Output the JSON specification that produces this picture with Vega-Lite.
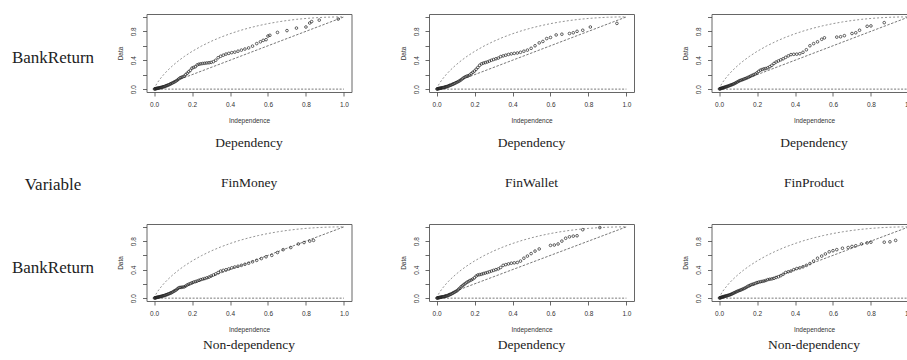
{
  "$schema": "https://vega.github.io/schema/vega-lite/v6.json",
  "padding": {"left": 0, "top": 13, "right": 0, "bottom": 0},
  "background": "white",
  "datasets": {
    "k0": [{"x":0,"y":0},{"x":0.001,"y":0.0079},{"x":0.005,"y":0.0315},{"x":0.01,"y":0.0561},{"x":0.02,"y":0.0982},{"x":0.03,"y":0.1352},{"x":0.05,"y":0.1998},{"x":0.07,"y":0.2561},{"x":0.1,"y":0.3303},{"x":0.13,"y":0.3952},{"x":0.16,"y":0.4532},{"x":0.2,"y":0.5219},{"x":0.25,"y":0.5966},{"x":0.3,"y":0.6612},{"x":0.35,"y":0.7174},{"x":0.4,"y":0.7665},{"x":0.45,"y":0.8093},{"x":0.5,"y":0.8466},{"x":0.55,"y":0.8788},{"x":0.6,"y":0.9065},{"x":0.65,"y":0.93},{"x":0.7,"y":0.9497},{"x":0.75,"y":0.9658},{"x":0.8,"y":0.9785},{"x":0.85,"y":0.9881},{"x":0.9,"y":0.9948},{"x":0.95,"y":0.9987},{"x":1,"y":1}],
    "diag": [{"x":0,"y":0},{"x":1,"y":1}],
    "zero": [{"x":0,"y":0},{"x":1,"y":0}],
    "p1": [{"x":0.002,"y":0.001},{"x":0.0044,"y":0.003},{"x":0.0071,"y":0.005},{"x":0.010,"y":0.007},{"x":0.0132,"y":0.009},{"x":0.0166,"y":0.011},{"x":0.0201,"y":0.013},{"x":0.0238,"y":0.015},{"x":0.0276,"y":0.017},{"x":0.0316,"y":0.02},{"x":0.0358,"y":0.022},{"x":0.040,"y":0.025},{"x":0.0445,"y":0.028},{"x":0.0491,"y":0.031},{"x":0.0539,"y":0.035},{"x":0.0588,"y":0.04},{"x":0.0638,"y":0.045},{"x":0.069,"y":0.05},{"x":0.0743,"y":0.056},{"x":0.0798,"y":0.062},{"x":0.0855,"y":0.07},{"x":0.0913,"y":0.078},{"x":0.0972,"y":0.086},{"x":0.1034,"y":0.094},{"x":0.1097,"y":0.103},{"x":0.1162,"y":0.113},{"x":0.1228,"y":0.125},{"x":0.1296,"y":0.14},{"x":0.1366,"y":0.155},{"x":0.1437,"y":0.163},{"x":0.151,"y":0.17},{"x":0.1586,"y":0.18},{"x":0.1664,"y":0.2},{"x":0.1743,"y":0.22},{"x":0.1825,"y":0.24},{"x":0.1908,"y":0.26},{"x":0.1995,"y":0.29},{"x":0.2083,"y":0.30},{"x":0.2175,"y":0.31},{"x":0.2269,"y":0.335},{"x":0.2366,"y":0.345},{"x":0.2464,"y":0.35},{"x":0.2566,"y":0.355},{"x":0.2672,"y":0.358},{"x":0.2779,"y":0.362},{"x":0.2892,"y":0.365},{"x":0.3004,"y":0.37},{"x":0.3125,"y":0.38},{"x":0.3248,"y":0.40},{"x":0.3375,"y":0.435},{"x":0.3507,"y":0.455},{"x":0.3644,"y":0.47},{"x":0.3787,"y":0.485},{"x":0.3935,"y":0.495},{"x":0.409,"y":0.505},{"x":0.4252,"y":0.512},{"x":0.442,"y":0.525},{"x":0.4598,"y":0.54},{"x":0.4784,"y":0.555},{"x":0.498,"y":0.57},{"x":0.5186,"y":0.595},{"x":0.5406,"y":0.63},{"x":0.56,"y":0.655},{"x":0.575,"y":0.675},{"x":0.59,"y":0.685},{"x":0.6,"y":0.735},{"x":0.61,"y":0.745},{"x":0.65,"y":0.785},{"x":0.7,"y":0.81},{"x":0.75,"y":0.845},{"x":0.8,"y":0.86},{"x":0.82,"y":0.915},{"x":0.83,"y":0.935},{"x":0.87,"y":0.955},{"x":0.97,"y":0.97}],
    "p2": [{"x":0.002,"y":0.001},{"x":0.0044,"y":0.003},{"x":0.0071,"y":0.005},{"x":0.010,"y":0.007},{"x":0.0132,"y":0.009},{"x":0.0166,"y":0.011},{"x":0.0201,"y":0.013},{"x":0.0238,"y":0.015},{"x":0.0276,"y":0.017},{"x":0.0316,"y":0.019},{"x":0.0358,"y":0.021},{"x":0.040,"y":0.024},{"x":0.0445,"y":0.027},{"x":0.0491,"y":0.03},{"x":0.0539,"y":0.034},{"x":0.0588,"y":0.039},{"x":0.0638,"y":0.044},{"x":0.069,"y":0.049},{"x":0.0743,"y":0.055},{"x":0.0798,"y":0.061},{"x":0.0855,"y":0.067},{"x":0.0913,"y":0.074},{"x":0.0972,"y":0.082},{"x":0.1034,"y":0.09},{"x":0.1097,"y":0.098},{"x":0.1162,"y":0.107},{"x":0.1228,"y":0.118},{"x":0.1296,"y":0.13},{"x":0.1366,"y":0.145},{"x":0.1437,"y":0.158},{"x":0.151,"y":0.17},{"x":0.1586,"y":0.178},{"x":0.1664,"y":0.185},{"x":0.1743,"y":0.195},{"x":0.1825,"y":0.215},{"x":0.1908,"y":0.232},{"x":0.1995,"y":0.25},{"x":0.2083,"y":0.275},{"x":0.2175,"y":0.3},{"x":0.2269,"y":0.33},{"x":0.2366,"y":0.35},{"x":0.2464,"y":0.36},{"x":0.2566,"y":0.368},{"x":0.2672,"y":0.376},{"x":0.2779,"y":0.388},{"x":0.2892,"y":0.4},{"x":0.3004,"y":0.41},{"x":0.3125,"y":0.42},{"x":0.3248,"y":0.43},{"x":0.3375,"y":0.45},{"x":0.3507,"y":0.46},{"x":0.3644,"y":0.47},{"x":0.3787,"y":0.48},{"x":0.3935,"y":0.488},{"x":0.409,"y":0.495},{"x":0.4252,"y":0.5},{"x":0.442,"y":0.51},{"x":0.4598,"y":0.525},{"x":0.4784,"y":0.54},{"x":0.498,"y":0.565},{"x":0.5186,"y":0.6},{"x":0.5406,"y":0.64},{"x":0.56,"y":0.66},{"x":0.58,"y":0.7},{"x":0.6,"y":0.715},{"x":0.63,"y":0.75},{"x":0.66,"y":0.76},{"x":0.7,"y":0.77},{"x":0.72,"y":0.78},{"x":0.74,"y":0.8},{"x":0.77,"y":0.815},{"x":0.81,"y":0.86},{"x":0.95,"y":0.91}],
    "p3": [{"x":0.002,"y":0.002},{"x":0.0044,"y":0.004},{"x":0.0071,"y":0.007},{"x":0.010,"y":0.009},{"x":0.0132,"y":0.012},{"x":0.0166,"y":0.015},{"x":0.0201,"y":0.018},{"x":0.0238,"y":0.021},{"x":0.0276,"y":0.024},{"x":0.0316,"y":0.028},{"x":0.0358,"y":0.031},{"x":0.040,"y":0.035},{"x":0.0445,"y":0.039},{"x":0.0491,"y":0.043},{"x":0.0539,"y":0.048},{"x":0.0588,"y":0.053},{"x":0.0638,"y":0.058},{"x":0.069,"y":0.063},{"x":0.0743,"y":0.069},{"x":0.0798,"y":0.075},{"x":0.0855,"y":0.083},{"x":0.0913,"y":0.092},{"x":0.0972,"y":0.1},{"x":0.1034,"y":0.11},{"x":0.1097,"y":0.118},{"x":0.1162,"y":0.125},{"x":0.1228,"y":0.13},{"x":0.1296,"y":0.137},{"x":0.1366,"y":0.145},{"x":0.1437,"y":0.152},{"x":0.151,"y":0.16},{"x":0.1586,"y":0.17},{"x":0.1664,"y":0.18},{"x":0.1743,"y":0.19},{"x":0.1825,"y":0.2},{"x":0.1908,"y":0.21},{"x":0.1995,"y":0.225},{"x":0.2083,"y":0.245},{"x":0.2175,"y":0.262},{"x":0.2269,"y":0.272},{"x":0.2366,"y":0.28},{"x":0.2464,"y":0.285},{"x":0.2566,"y":0.295},{"x":0.2672,"y":0.31},{"x":0.2779,"y":0.33},{"x":0.2892,"y":0.355},{"x":0.3004,"y":0.375},{"x":0.3125,"y":0.39},{"x":0.3248,"y":0.405},{"x":0.3375,"y":0.42},{"x":0.3507,"y":0.44},{"x":0.3644,"y":0.46},{"x":0.3787,"y":0.478},{"x":0.3935,"y":0.482},{"x":0.409,"y":0.484},{"x":0.4252,"y":0.49},{"x":0.442,"y":0.51},{"x":0.4598,"y":0.545},{"x":0.4784,"y":0.6},{"x":0.498,"y":0.63},{"x":0.5186,"y":0.655},{"x":0.5406,"y":0.69},{"x":0.555,"y":0.71},{"x":0.62,"y":0.72},{"x":0.64,"y":0.725},{"x":0.66,"y":0.74},{"x":0.7,"y":0.77},{"x":0.72,"y":0.78},{"x":0.74,"y":0.815},{"x":0.78,"y":0.87},{"x":0.8,"y":0.875},{"x":0.87,"y":0.92}],
    "p4": [{"x":0.002,"y":0.001},{"x":0.0044,"y":0.003},{"x":0.0071,"y":0.005},{"x":0.010,"y":0.007},{"x":0.0132,"y":0.01},{"x":0.0166,"y":0.012},{"x":0.0201,"y":0.014},{"x":0.0238,"y":0.016},{"x":0.0276,"y":0.019},{"x":0.0316,"y":0.021},{"x":0.0358,"y":0.024},{"x":0.040,"y":0.027},{"x":0.0445,"y":0.03},{"x":0.0491,"y":0.033},{"x":0.0539,"y":0.037},{"x":0.0588,"y":0.041},{"x":0.0638,"y":0.046},{"x":0.069,"y":0.051},{"x":0.0743,"y":0.057},{"x":0.0798,"y":0.063},{"x":0.0855,"y":0.069},{"x":0.0913,"y":0.076},{"x":0.0972,"y":0.085},{"x":0.1034,"y":0.095},{"x":0.1097,"y":0.105},{"x":0.1162,"y":0.115},{"x":0.1228,"y":0.13},{"x":0.1296,"y":0.145},{"x":0.1366,"y":0.15},{"x":0.1437,"y":0.152},{"x":0.151,"y":0.155},{"x":0.1586,"y":0.158},{"x":0.1664,"y":0.17},{"x":0.1743,"y":0.185},{"x":0.1825,"y":0.195},{"x":0.1908,"y":0.205},{"x":0.1995,"y":0.215},{"x":0.2083,"y":0.225},{"x":0.2175,"y":0.232},{"x":0.2269,"y":0.24},{"x":0.2366,"y":0.25},{"x":0.2464,"y":0.26},{"x":0.2566,"y":0.268},{"x":0.2672,"y":0.275},{"x":0.2779,"y":0.285},{"x":0.2892,"y":0.295},{"x":0.3004,"y":0.31},{"x":0.3125,"y":0.325},{"x":0.3248,"y":0.34},{"x":0.3375,"y":0.36},{"x":0.3507,"y":0.38},{"x":0.3644,"y":0.39},{"x":0.3787,"y":0.398},{"x":0.3935,"y":0.41},{"x":0.409,"y":0.425},{"x":0.4252,"y":0.437},{"x":0.442,"y":0.447},{"x":0.4598,"y":0.46},{"x":0.4784,"y":0.475},{"x":0.498,"y":0.49},{"x":0.5186,"y":0.51},{"x":0.5406,"y":0.53},{"x":0.565,"y":0.555},{"x":0.59,"y":0.58},{"x":0.62,"y":0.6},{"x":0.65,"y":0.64},{"x":0.68,"y":0.68},{"x":0.72,"y":0.71},{"x":0.76,"y":0.76},{"x":0.79,"y":0.78},{"x":0.82,"y":0.8},{"x":0.84,"y":0.81}],
    "p5": [{"x":0.002,"y":0.001},{"x":0.0044,"y":0.002},{"x":0.0071,"y":0.004},{"x":0.010,"y":0.006},{"x":0.0132,"y":0.008},{"x":0.0166,"y":0.01},{"x":0.0201,"y":0.012},{"x":0.0238,"y":0.014},{"x":0.0276,"y":0.016},{"x":0.0316,"y":0.018},{"x":0.0358,"y":0.02},{"x":0.040,"y":0.022},{"x":0.0445,"y":0.025},{"x":0.0491,"y":0.028},{"x":0.0539,"y":0.032},{"x":0.0588,"y":0.037},{"x":0.0638,"y":0.042},{"x":0.069,"y":0.048},{"x":0.0743,"y":0.055},{"x":0.0798,"y":0.062},{"x":0.0855,"y":0.07},{"x":0.0913,"y":0.079},{"x":0.0972,"y":0.088},{"x":0.1034,"y":0.097},{"x":0.1097,"y":0.108},{"x":0.1162,"y":0.125},{"x":0.1228,"y":0.14},{"x":0.1296,"y":0.16},{"x":0.1366,"y":0.175},{"x":0.1437,"y":0.19},{"x":0.151,"y":0.205},{"x":0.1586,"y":0.22},{"x":0.1664,"y":0.232},{"x":0.1743,"y":0.245},{"x":0.1825,"y":0.255},{"x":0.1908,"y":0.268},{"x":0.1995,"y":0.285},{"x":0.2083,"y":0.31},{"x":0.2175,"y":0.325},{"x":0.2269,"y":0.33},{"x":0.2366,"y":0.335},{"x":0.2464,"y":0.345},{"x":0.2566,"y":0.352},{"x":0.2672,"y":0.36},{"x":0.2779,"y":0.37},{"x":0.2892,"y":0.38},{"x":0.3004,"y":0.39},{"x":0.3125,"y":0.4},{"x":0.3248,"y":0.41},{"x":0.3375,"y":0.43},{"x":0.3507,"y":0.46},{"x":0.3644,"y":0.47},{"x":0.3787,"y":0.48},{"x":0.3935,"y":0.49},{"x":0.409,"y":0.495},{"x":0.4252,"y":0.5},{"x":0.442,"y":0.52},{"x":0.4598,"y":0.56},{"x":0.4784,"y":0.59},{"x":0.498,"y":0.625},{"x":0.5186,"y":0.66},{"x":0.5406,"y":0.69},{"x":0.6,"y":0.74},{"x":0.62,"y":0.745},{"x":0.64,"y":0.76},{"x":0.66,"y":0.8},{"x":0.68,"y":0.84},{"x":0.7,"y":0.86},{"x":0.72,"y":0.87},{"x":0.74,"y":0.875},{"x":0.77,"y":0.96},{"x":0.86,"y":0.99}],
    "p6": [{"x":0.002,"y":0.002},{"x":0.0044,"y":0.004},{"x":0.0071,"y":0.006},{"x":0.010,"y":0.009},{"x":0.0132,"y":0.012},{"x":0.0166,"y":0.015},{"x":0.0201,"y":0.018},{"x":0.0238,"y":0.021},{"x":0.0276,"y":0.024},{"x":0.0316,"y":0.027},{"x":0.0358,"y":0.03},{"x":0.040,"y":0.033},{"x":0.0445,"y":0.036},{"x":0.0491,"y":0.04},{"x":0.0539,"y":0.044},{"x":0.0588,"y":0.049},{"x":0.0638,"y":0.055},{"x":0.069,"y":0.06},{"x":0.0743,"y":0.068},{"x":0.0798,"y":0.075},{"x":0.0855,"y":0.082},{"x":0.0913,"y":0.09},{"x":0.0972,"y":0.097},{"x":0.1034,"y":0.104},{"x":0.1097,"y":0.11},{"x":0.1162,"y":0.117},{"x":0.1228,"y":0.125},{"x":0.1296,"y":0.133},{"x":0.1366,"y":0.142},{"x":0.1437,"y":0.152},{"x":0.151,"y":0.165},{"x":0.1586,"y":0.175},{"x":0.1664,"y":0.185},{"x":0.1743,"y":0.193},{"x":0.1825,"y":0.2},{"x":0.1908,"y":0.208},{"x":0.1995,"y":0.218},{"x":0.2083,"y":0.224},{"x":0.2175,"y":0.23},{"x":0.2269,"y":0.235},{"x":0.2366,"y":0.24},{"x":0.2464,"y":0.248},{"x":0.2566,"y":0.26},{"x":0.2672,"y":0.265},{"x":0.2779,"y":0.27},{"x":0.2892,"y":0.278},{"x":0.3004,"y":0.29},{"x":0.3125,"y":0.3},{"x":0.3248,"y":0.315},{"x":0.3375,"y":0.335},{"x":0.3507,"y":0.36},{"x":0.3644,"y":0.37},{"x":0.3787,"y":0.38},{"x":0.3935,"y":0.4},{"x":0.409,"y":0.415},{"x":0.4252,"y":0.425},{"x":0.442,"y":0.44},{"x":0.4598,"y":0.46},{"x":0.4784,"y":0.485},{"x":0.498,"y":0.52},{"x":0.5186,"y":0.56},{"x":0.5406,"y":0.59},{"x":0.56,"y":0.62},{"x":0.58,"y":0.65},{"x":0.6,"y":0.665},{"x":0.62,"y":0.68},{"x":0.65,"y":0.7},{"x":0.68,"y":0.71},{"x":0.7,"y":0.725},{"x":0.72,"y":0.735},{"x":0.75,"y":0.76},{"x":0.78,"y":0.775},{"x":0.8,"y":0.785},{"x":0.87,"y":0.785},{"x":0.9,"y":0.79},{"x":0.93,"y":0.81}]
  },
  "bounds": "flush",
  "columns": 4,
  "spacing": {"column": 77.5, "row": 132},
  "concat": [
    {"width": 69, "height": 78, "view": {"stroke": null, "fill": "white"},
     "title": {"text": "Variable", "offset": 85, "dx": 18.5, "fontSize": 17},
     "data": {"values": [{"label": "BankReturn"}]},
     "mark": {"type": "text", "font": "Liberation Serif", "fontSize": 17, "color": "#222", "dx": 18.5, "dy": 5},
     "encoding": {"text": {"field": "label", "type": "nominal"}}},
    {"width": 205, "height": 78, "title": {"text": ["Dependency", "FinMoney"], "offset": 12.5, "lineHeight": 40},
     "encoding": {
       "x": {"field": "x", "type": "quantitative", "scale": {"domain": [-0.04, 1.04], "nice": false, "zero": false}, "axis": {"title": "Independence", "values": [0, 0.2, 0.4, 0.6, 0.8, 1], "format": ".1f"}},
       "y": {"field": "y", "type": "quantitative", "scale": {"domain": [-0.04, 1.04], "nice": false, "zero": false}, "axis": {"title": "Data", "values": [0, 0.2, 0.4, 0.6, 0.8, 1], "labelExpr": "datum.value === 0 || abs(datum.value - 0.4) < 0.001 || abs(datum.value - 0.8) < 0.001 ? format(datum.value, '.1f') : ''"}}
     },
     "layer": [
       {"data": {"name": "k0"}, "mark": {"type": "line", "stroke": "#777", "strokeDash": [2, 2], "strokeWidth": 0.8}, "encoding": {}},
       {"data": {"name": "diag"}, "mark": {"type": "line", "stroke": "#555", "strokeDash": [2.5, 1.5], "strokeWidth": 0.8}, "encoding": {}},
       {"data": {"name": "zero"}, "mark": {"type": "line", "stroke": "#555", "strokeDash": [2, 1.5], "strokeWidth": 0.8}, "encoding": {}},
       {"data": {"name": "p1"}, "mark": {"type": "point", "shape": "circle", "filled": false, "size": 7, "strokeWidth": 0.7, "color": "#222", "opacity": 1}}
     ]},
    {"width": 205, "height": 78, "title": {"text": ["Dependency", "FinWallet"], "offset": 12.5, "lineHeight": 40},
     "encoding": {
       "x": {"field": "x", "type": "quantitative", "scale": {"domain": [-0.04, 1.04], "nice": false, "zero": false}, "axis": {"title": "Independence", "values": [0, 0.2, 0.4, 0.6, 0.8, 1], "format": ".1f"}},
       "y": {"field": "y", "type": "quantitative", "scale": {"domain": [-0.04, 1.04], "nice": false, "zero": false}, "axis": {"title": "Data", "values": [0, 0.2, 0.4, 0.6, 0.8, 1], "labelExpr": "datum.value === 0 || abs(datum.value - 0.4) < 0.001 || abs(datum.value - 0.8) < 0.001 ? format(datum.value, '.1f') : ''"}}
     },
     "layer": [
       {"data": {"name": "k0"}, "mark": {"type": "line", "stroke": "#777", "strokeDash": [2, 2], "strokeWidth": 0.8}, "encoding": {}},
       {"data": {"name": "diag"}, "mark": {"type": "line", "stroke": "#555", "strokeDash": [2.5, 1.5], "strokeWidth": 0.8}, "encoding": {}},
       {"data": {"name": "zero"}, "mark": {"type": "line", "stroke": "#555", "strokeDash": [2, 1.5], "strokeWidth": 0.8}, "encoding": {}},
       {"data": {"name": "p2"}, "mark": {"type": "point", "shape": "circle", "filled": false, "size": 7, "strokeWidth": 0.7, "color": "#222", "opacity": 1}}
     ]},
    {"width": 205, "height": 78, "title": {"text": ["Dependency", "FinProduct"], "offset": 12.5, "lineHeight": 40},
     "encoding": {
       "x": {"field": "x", "type": "quantitative", "scale": {"domain": [-0.04, 1.04], "nice": false, "zero": false}, "axis": {"title": "Independence", "values": [0, 0.2, 0.4, 0.6, 0.8, 1], "format": ".1f"}},
       "y": {"field": "y", "type": "quantitative", "scale": {"domain": [-0.04, 1.04], "nice": false, "zero": false}, "axis": {"title": "Data", "values": [0, 0.2, 0.4, 0.6, 0.8, 1], "labelExpr": "datum.value === 0 || abs(datum.value - 0.4) < 0.001 || abs(datum.value - 0.8) < 0.001 ? format(datum.value, '.1f') : ''"}}
     },
     "layer": [
       {"data": {"name": "k0"}, "mark": {"type": "line", "stroke": "#777", "strokeDash": [2, 2], "strokeWidth": 0.8}, "encoding": {}},
       {"data": {"name": "diag"}, "mark": {"type": "line", "stroke": "#555", "strokeDash": [2.5, 1.5], "strokeWidth": 0.8}, "encoding": {}},
       {"data": {"name": "zero"}, "mark": {"type": "line", "stroke": "#555", "strokeDash": [2, 1.5], "strokeWidth": 0.8}, "encoding": {}},
       {"data": {"name": "p3"}, "mark": {"type": "point", "shape": "circle", "filled": false, "size": 7, "strokeWidth": 0.7, "color": "#222", "opacity": 1}}
     ]},
    {"width": 69, "height": 77, "view": {"stroke": null, "fill": "white"},
     "data": {"values": [{"label": "BankReturn"}]},
     "mark": {"type": "text", "font": "Liberation Serif", "fontSize": 17, "color": "#222", "dx": 18.5, "dy": 5},
     "encoding": {"text": {"field": "label", "type": "nominal"}}},
    {"width": 205, "height": 77, "title": {"text": "Non-dependency", "offset": 5},
     "encoding": {
       "x": {"field": "x", "type": "quantitative", "scale": {"domain": [-0.04, 1.04], "nice": false, "zero": false}, "axis": {"title": "Independence", "values": [0, 0.2, 0.4, 0.6, 0.8, 1], "format": ".1f"}},
       "y": {"field": "y", "type": "quantitative", "scale": {"domain": [-0.04, 1.04], "nice": false, "zero": false}, "axis": {"title": "Data", "values": [0, 0.2, 0.4, 0.6, 0.8, 1], "labelExpr": "datum.value === 0 || abs(datum.value - 0.4) < 0.001 || abs(datum.value - 0.8) < 0.001 ? format(datum.value, '.1f') : ''"}}
     },
     "layer": [
       {"data": {"name": "k0"}, "mark": {"type": "line", "stroke": "#777", "strokeDash": [2, 2], "strokeWidth": 0.8}, "encoding": {}},
       {"data": {"name": "diag"}, "mark": {"type": "line", "stroke": "#555", "strokeDash": [2.5, 1.5], "strokeWidth": 0.8}, "encoding": {}},
       {"data": {"name": "zero"}, "mark": {"type": "line", "stroke": "#555", "strokeDash": [2, 1.5], "strokeWidth": 0.8}, "encoding": {}},
       {"data": {"name": "p4"}, "mark": {"type": "point", "shape": "circle", "filled": false, "size": 7, "strokeWidth": 0.7, "color": "#222", "opacity": 1}}
     ]},
    {"width": 205, "height": 77, "title": {"text": "Dependency", "offset": 5},
     "encoding": {
       "x": {"field": "x", "type": "quantitative", "scale": {"domain": [-0.04, 1.04], "nice": false, "zero": false}, "axis": {"title": "Independence", "values": [0, 0.2, 0.4, 0.6, 0.8, 1], "format": ".1f"}},
       "y": {"field": "y", "type": "quantitative", "scale": {"domain": [-0.04, 1.04], "nice": false, "zero": false}, "axis": {"title": "Data", "values": [0, 0.2, 0.4, 0.6, 0.8, 1], "labelExpr": "datum.value === 0 || abs(datum.value - 0.4) < 0.001 || abs(datum.value - 0.8) < 0.001 ? format(datum.value, '.1f') : ''"}}
     },
     "layer": [
       {"data": {"name": "k0"}, "mark": {"type": "line", "stroke": "#777", "strokeDash": [2, 2], "strokeWidth": 0.8}, "encoding": {}},
       {"data": {"name": "diag"}, "mark": {"type": "line", "stroke": "#555", "strokeDash": [2.5, 1.5], "strokeWidth": 0.8}, "encoding": {}},
       {"data": {"name": "zero"}, "mark": {"type": "line", "stroke": "#555", "strokeDash": [2, 1.5], "strokeWidth": 0.8}, "encoding": {}},
       {"data": {"name": "p5"}, "mark": {"type": "point", "shape": "circle", "filled": false, "size": 7, "strokeWidth": 0.7, "color": "#222", "opacity": 1}}
     ]},
    {"width": 205, "height": 77, "title": {"text": "Non-dependency", "offset": 5},
     "encoding": {
       "x": {"field": "x", "type": "quantitative", "scale": {"domain": [-0.04, 1.04], "nice": false, "zero": false}, "axis": {"title": "Independence", "values": [0, 0.2, 0.4, 0.6, 0.8, 1], "format": ".1f"}},
       "y": {"field": "y", "type": "quantitative", "scale": {"domain": [-0.04, 1.04], "nice": false, "zero": false}, "axis": {"title": "Data", "values": [0, 0.2, 0.4, 0.6, 0.8, 1], "labelExpr": "datum.value === 0 || abs(datum.value - 0.4) < 0.001 || abs(datum.value - 0.8) < 0.001 ? format(datum.value, '.1f') : ''"}}
     },
     "layer": [
       {"data": {"name": "k0"}, "mark": {"type": "line", "stroke": "#777", "strokeDash": [2, 2], "strokeWidth": 0.8}, "encoding": {}},
       {"data": {"name": "diag"}, "mark": {"type": "line", "stroke": "#555", "strokeDash": [2.5, 1.5], "strokeWidth": 0.8}, "encoding": {}},
       {"data": {"name": "zero"}, "mark": {"type": "line", "stroke": "#555", "strokeDash": [2, 1.5], "strokeWidth": 0.8}, "encoding": {}},
       {"data": {"name": "p6"}, "mark": {"type": "point", "shape": "circle", "filled": false, "size": 7, "strokeWidth": 0.7, "color": "#222", "opacity": 1}}
     ]}
  ],
  "config": {
    "view": {"stroke": "#666", "strokeWidth": 1},
    "axis": {"grid": false, "domain": false, "tickSize": 4, "tickColor": "#444", "tickWidth": 0.8, "labelFont": "Liberation Sans", "labelFontSize": 6.5, "labelColor": "#333", "titleFont": "Liberation Sans", "titleFontSize": 6.5, "titleFontWeight": "normal", "titleColor": "#333", "labelFlush": false, "labelOverlap": false},
    "axisX": {"labelPadding": 5, "titlePadding": 9.5},
    "axisY": {"labelAngle": 270, "labelAlign": "center", "labelBaseline": "bottom", "labelPadding": 6, "titlePadding": 7},
    "title": {"orient": "bottom", "anchor": "middle", "font": "Liberation Serif", "fontSize": 13.5, "fontWeight": "normal", "color": "#222", "lineHeight": 20}
  }
}
